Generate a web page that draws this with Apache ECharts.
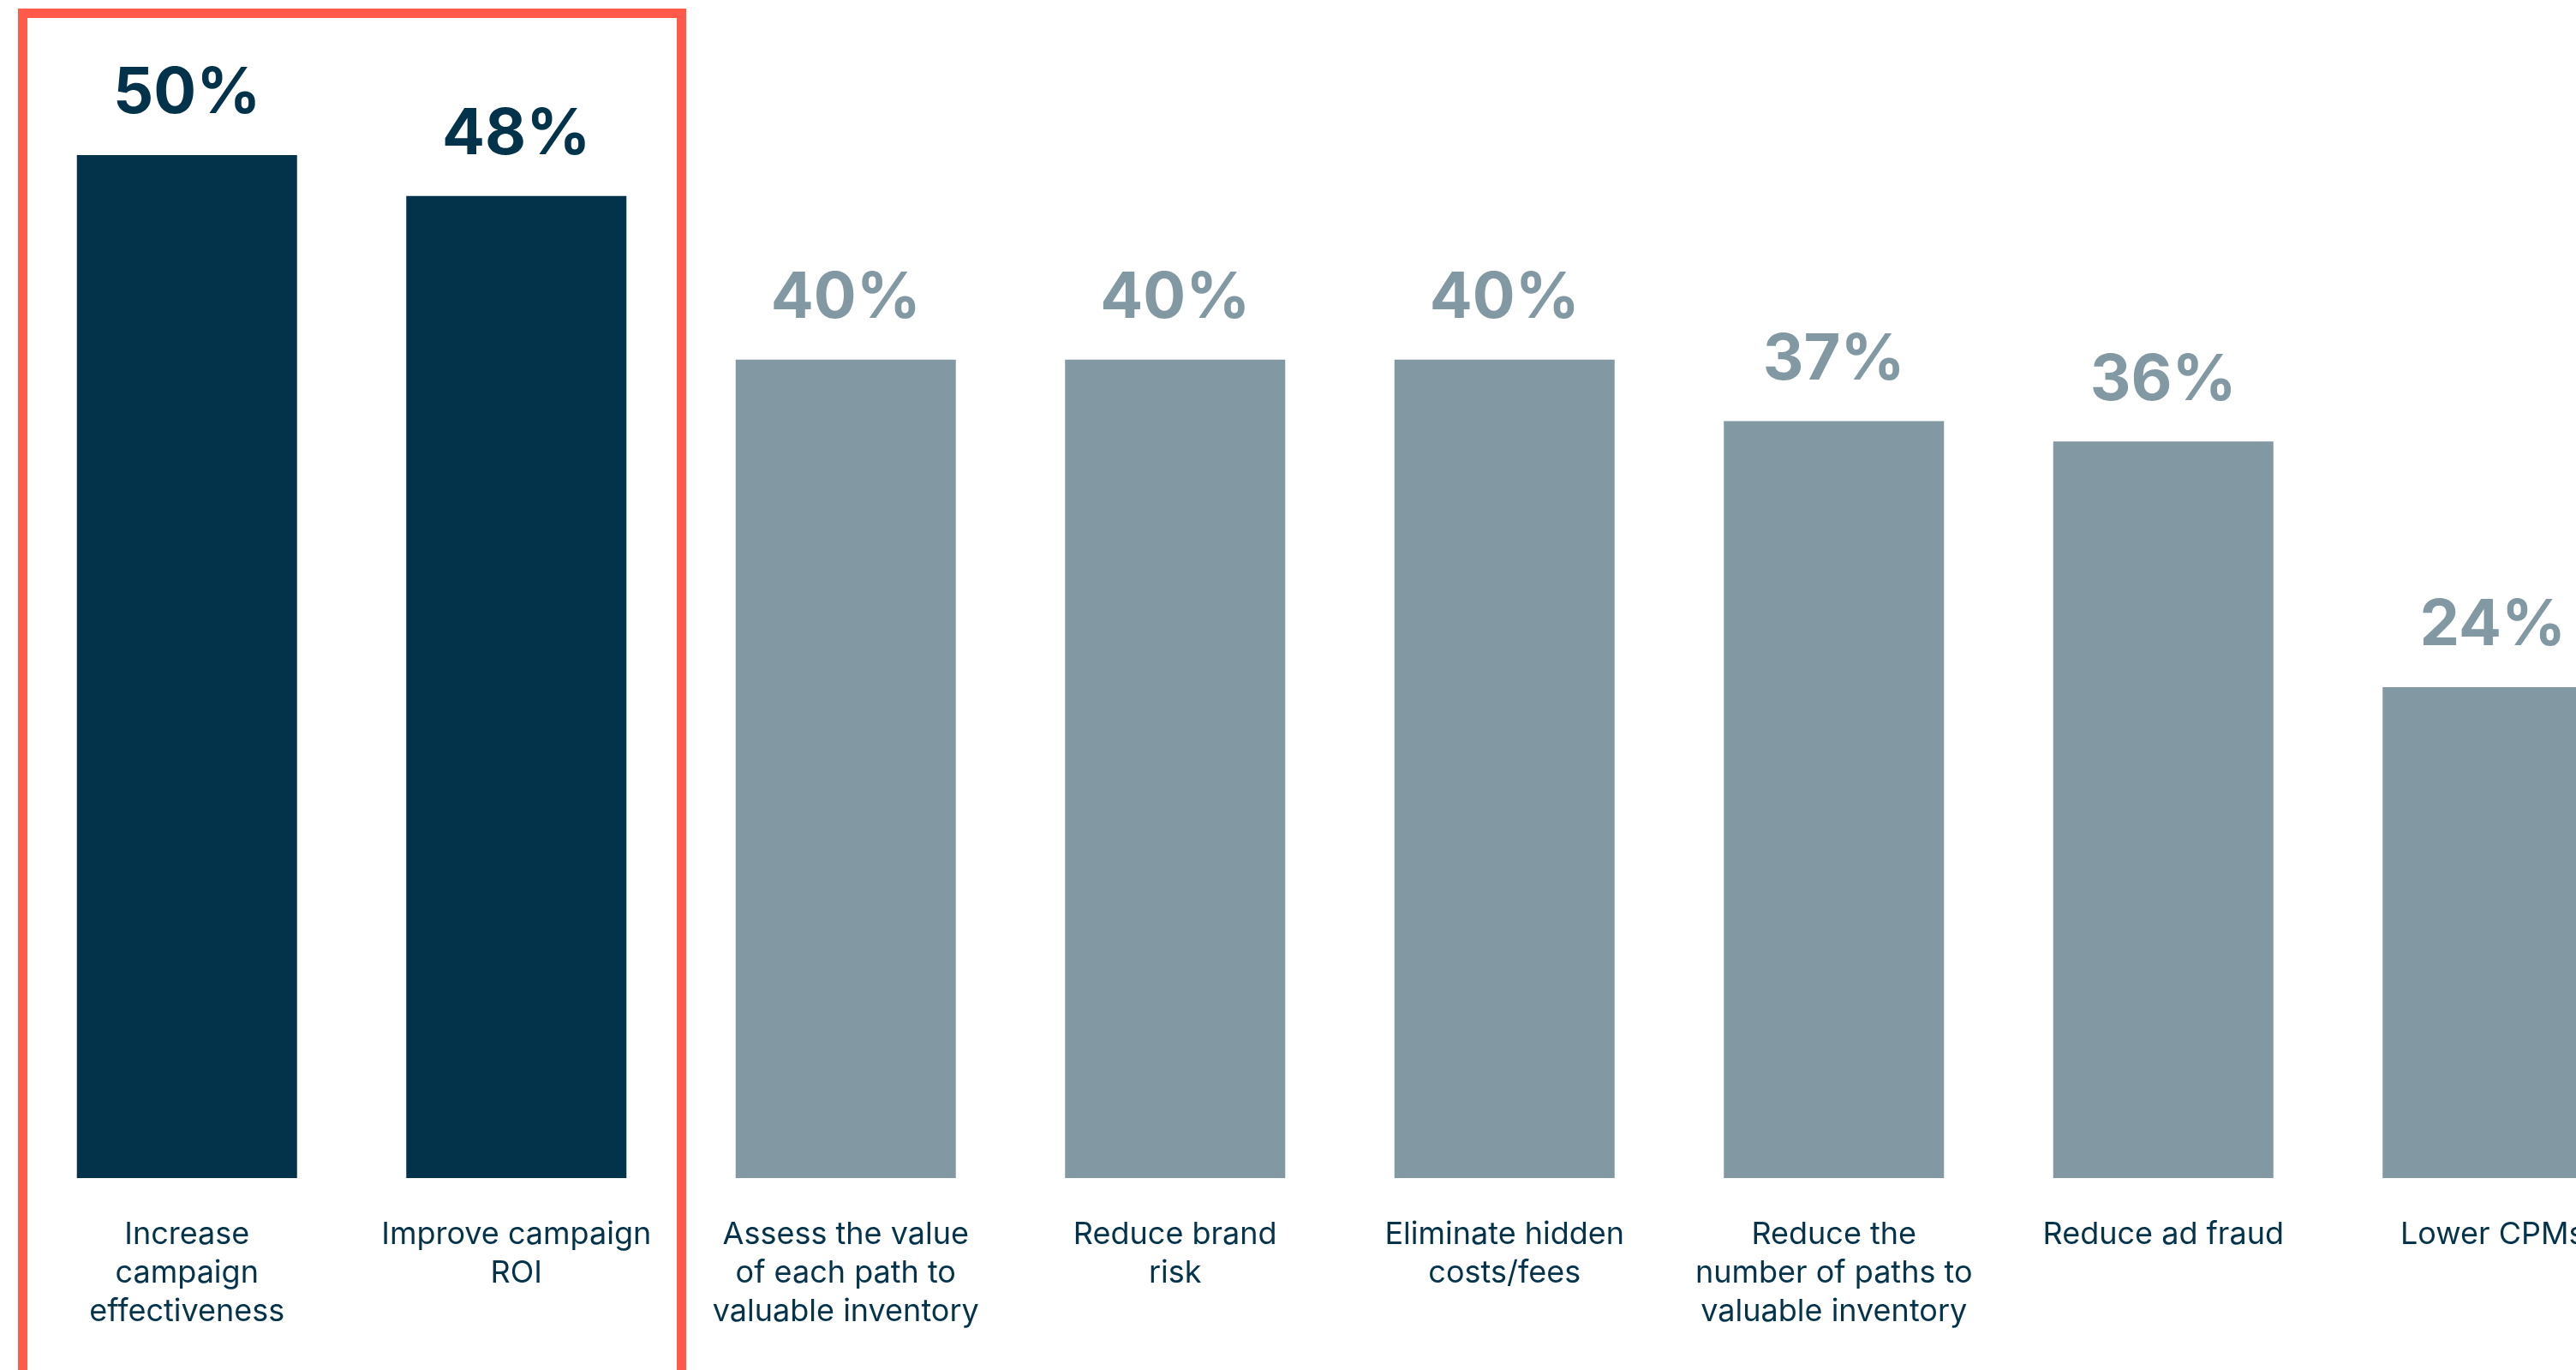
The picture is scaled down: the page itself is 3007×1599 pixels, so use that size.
<!DOCTYPE html>
<html>
	<head>
		<meta charset="UTF-8">
		<title></title>
		<script src="https://cdn.jsdelivr.net/npm/echarts@6/dist/echarts.min.js" type="text/javascript" charset="utf-8"></script>
		<style>
			html, body { margin: 0; padding: 0; background: #fff; overflow: hidden; }
		</style>
	</head>
	<body>
		<!-- wider than the window: the last bar is cut at the right edge -->
		<div id="main" style="width: 3102px;height:1599px;overflow: hidden;"></div>
		<script type="text/javascript">
		// categories (line breaks as in the picture)
		var categories = [
			'Increase\ncampaign\neffectiveness',
			'Improve campaign\nROI',
			'Assess the value\nof each path to\nvaluable inventory',
			'Reduce brand\nrisk',
			'Eliminate hidden\ncosts/fees',
			'Reduce the\nnumber of paths to\nvaluable inventory',
			'Reduce ad fraud',
			'Lower CPMs'
		];
		var values = [50, 48, 40, 40, 40, 37, 36, 24];
		// first two are the highlighted ones
		var highlightCount = 2;

		var navy = '#03334A';
		var grey = '#8299A4';

		var seriesData = [];
		for (var i = 0; i < values.length; i++) {
			var c = i < highlightCount ? navy : grey;
			seriesData.push({
				value: values[i],
				itemStyle: { color: c },
				label: { color: c }
			});
		}

		var option = {
			animation: false,
			grid: {
				left: 26,
				right: 0,
				top: 181,
				bottom: 224,
				containLabel: false
			},
			xAxis: {
				type: 'category',
				data: categories,
				axisLine: { show: false },
				axisTick: { show: false },
				axisLabel: {
					interval: 0,
					margin: 44,
					color: '#04334B',
					fontFamily: 'Inter',
					fontSize: 36,
					lineHeight: 45,
					align: 'center',
					verticalAlign: 'top'
				}
			},
			yAxis: {
				type: 'value',
				min: 0,
				max: 50,
				show: false,
				splitLine: { show: false }
			},
			series: [{
				type: 'bar',
				barWidth: 257,
				data: seriesData,
				label: {
					show: true,
					position: 'top',
					distance: 34,
					formatter: '{c}%',
					fontFamily: 'Inter',
					fontWeight: 'bold',
					fontSize: 74
				}
			}],
			graphic: [{
				type: 'rect',
				shape: { x: 26.5, y: 15.5, width: 769, height: 1600 },
				style: { fill: 'none', stroke: '#FF5A4A', lineWidth: 11 },
				z: 10
			}]
		};

		var myChart = echarts.init(document.getElementById('main'));
		myChart.setOption(option);
		</script>
	</body>
</html>
